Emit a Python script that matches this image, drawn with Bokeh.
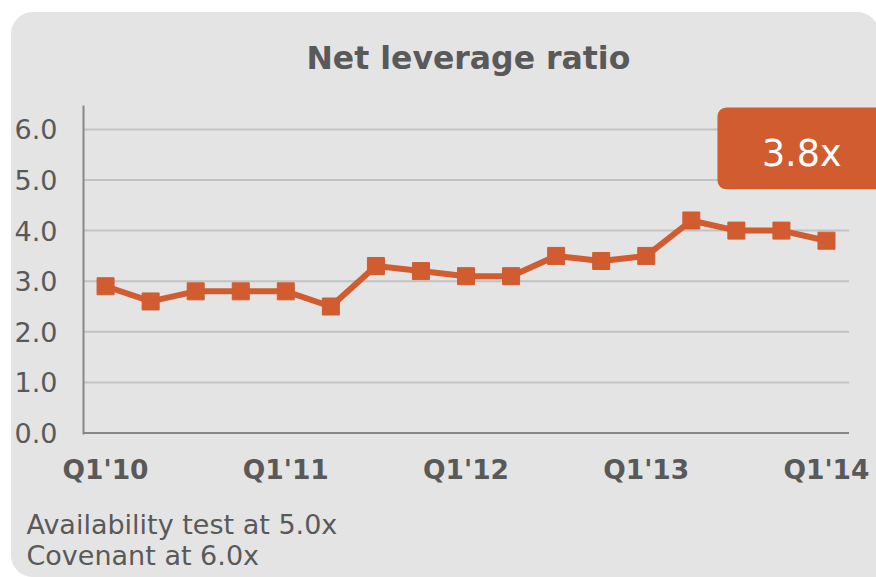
from bokeh.plotting import figure
from bokeh.models import FixedTicker, Title, Label, PrintfTickFormatter, Range1d, BoxAnnotation
from bokeh.embed import file_html
from bokeh.resources import INLINE

# ---- data ----
values = [2.9, 2.6, 2.8, 2.8, 2.8, 2.5, 3.3, 3.2, 3.1, 3.1, 3.5, 3.4, 3.5, 4.2, 4.0, 4.0, 3.8]
tick_positions = [0, 4, 8, 12, 16]
tick_labels = ["Q1'10", "Q1'11", "Q1'12", "Q1'13", "Q1'14"]
y_ticks = [0, 1, 2, 3, 4, 5, 6]
title_text = "Net leverage ratio"
notes = ["Availability test at 5.0x", "Covenant at 6.0x"]

FONT = "DejaVu Sans"
BG = "#e4e4e4"
ORANGE = "#d05c30"
TXT = "#595959"
GRID = "#c2c2c2"
AXIS = "#878787"

xs = list(range(len(values)))
x_start = -0.49
x_end = 17.11
x_last = len(values) - 0.5

# rounded grey panel drawn as the page background of the figure element
g = f"linear-gradient({BG},{BG})"
panel_css = ", ".join([
    f"radial-gradient(circle at 33px 34px, {BG} 21.5px, rgba(228,228,228,0) 22.5px)",
    f"radial-gradient(circle at 857px 34px, {BG} 21.5px, rgba(228,228,228,0) 22.5px)",
    f"radial-gradient(circle at 33px 555px, {BG} 21.5px, rgba(228,228,228,0) 22.5px)",
    f"{g} 33px 12px / 824px 22px no-repeat",
    f"{g} 11px 34px / 870px 521px no-repeat",
    f"{g} 33px 555px / 850px 45px no-repeat",
    "white",
])

p = figure(width=876, height=600, output_backend="svg", toolbar_location=None,
           x_range=Range1d(x_start, x_end), y_range=Range1d(-0.03, 6.473),
           min_border_left=83, min_border_right=0, min_border_top=105, min_border_bottom=166)
p.styles = {"position": "fixed", "left": "0px", "top": "0px", "background": panel_css}
p.background_fill_color = BG
p.border_fill_color = None
p.outline_line_color = None

p.title.text = title_text
p.title.align = "left"
p.title.offset = 223
p.title.text_font = FONT
p.title.text_font_size = "31.5px"
p.title.text_font_style = "bold"
p.title.text_color = TXT
p.title.standoff = 60

# axes
xa = p.xaxis[0]
xa.ticker = FixedTicker(ticks=tick_positions)
xa.major_label_overrides = {t: l for t, l in zip(tick_positions, tick_labels)}
xa.major_label_text_font = FONT
xa.major_label_text_font_size = "26.5px"
xa.major_label_text_font_style = "bold"
xa.major_label_text_color = TXT
xa.major_tick_line_color = None
xa.minor_tick_line_color = None
xa.axis_line_color = None
xa.major_label_standoff = 13

ya = p.yaxis[0]
ya.ticker = FixedTicker(ticks=y_ticks)
ya.formatter = PrintfTickFormatter(format="%.1f")
ya.major_label_text_font = FONT
ya.major_label_text_font_size = "27px"
ya.major_label_text_color = TXT
ya.major_tick_line_color = None
ya.minor_tick_line_color = None
ya.axis_line_color = AXIS
ya.axis_line_width = 2
ya.major_label_standoff = 20

p.xgrid.grid_line_color = None
p.ygrid.grid_line_color = None

# gridlines and x axis line, ending at the last category edge
grid_y = y_ticks[1:]
p.segment(x0=[x_start] * len(grid_y), x1=[x_last] * len(grid_y), y0=grid_y, y1=grid_y,
          line_color=GRID, line_width=2)
p.segment(x0=[x_start], x1=[x_last], y0=[0], y1=[0], line_color=AXIS, line_width=2)

# series
p.line(xs, values, line_color=ORANGE, line_width=6)
p.scatter(xs, values, marker="square", size=17, fill_color=ORANGE, line_color=ORANGE)

# callout
box = BoxAnnotation(left=13.58, right=18.5, top=6.434, bottom=4.816,
                    fill_color=ORANGE, fill_alpha=1, line_color=None, border_radius=9)
p.add_layout(box)
callout = Label(x=15.45, y=5.516, text=f"{values[-1]:.1f}x", text_align="center",
                text_baseline="middle", text_font=FONT, text_font_size="36.5px",
                text_color="white")
p.add_layout(callout)

# notes below
note = Title(text="\n".join(notes), align="left", text_font=FONT, text_font_size="27px",
             text_font_style="normal", text_color=TXT, offset=-57, standoff=38,
             text_line_height=1.0)
p.add_layout(note, "below")

open("out.html", "w").write(file_html(p, INLINE))
